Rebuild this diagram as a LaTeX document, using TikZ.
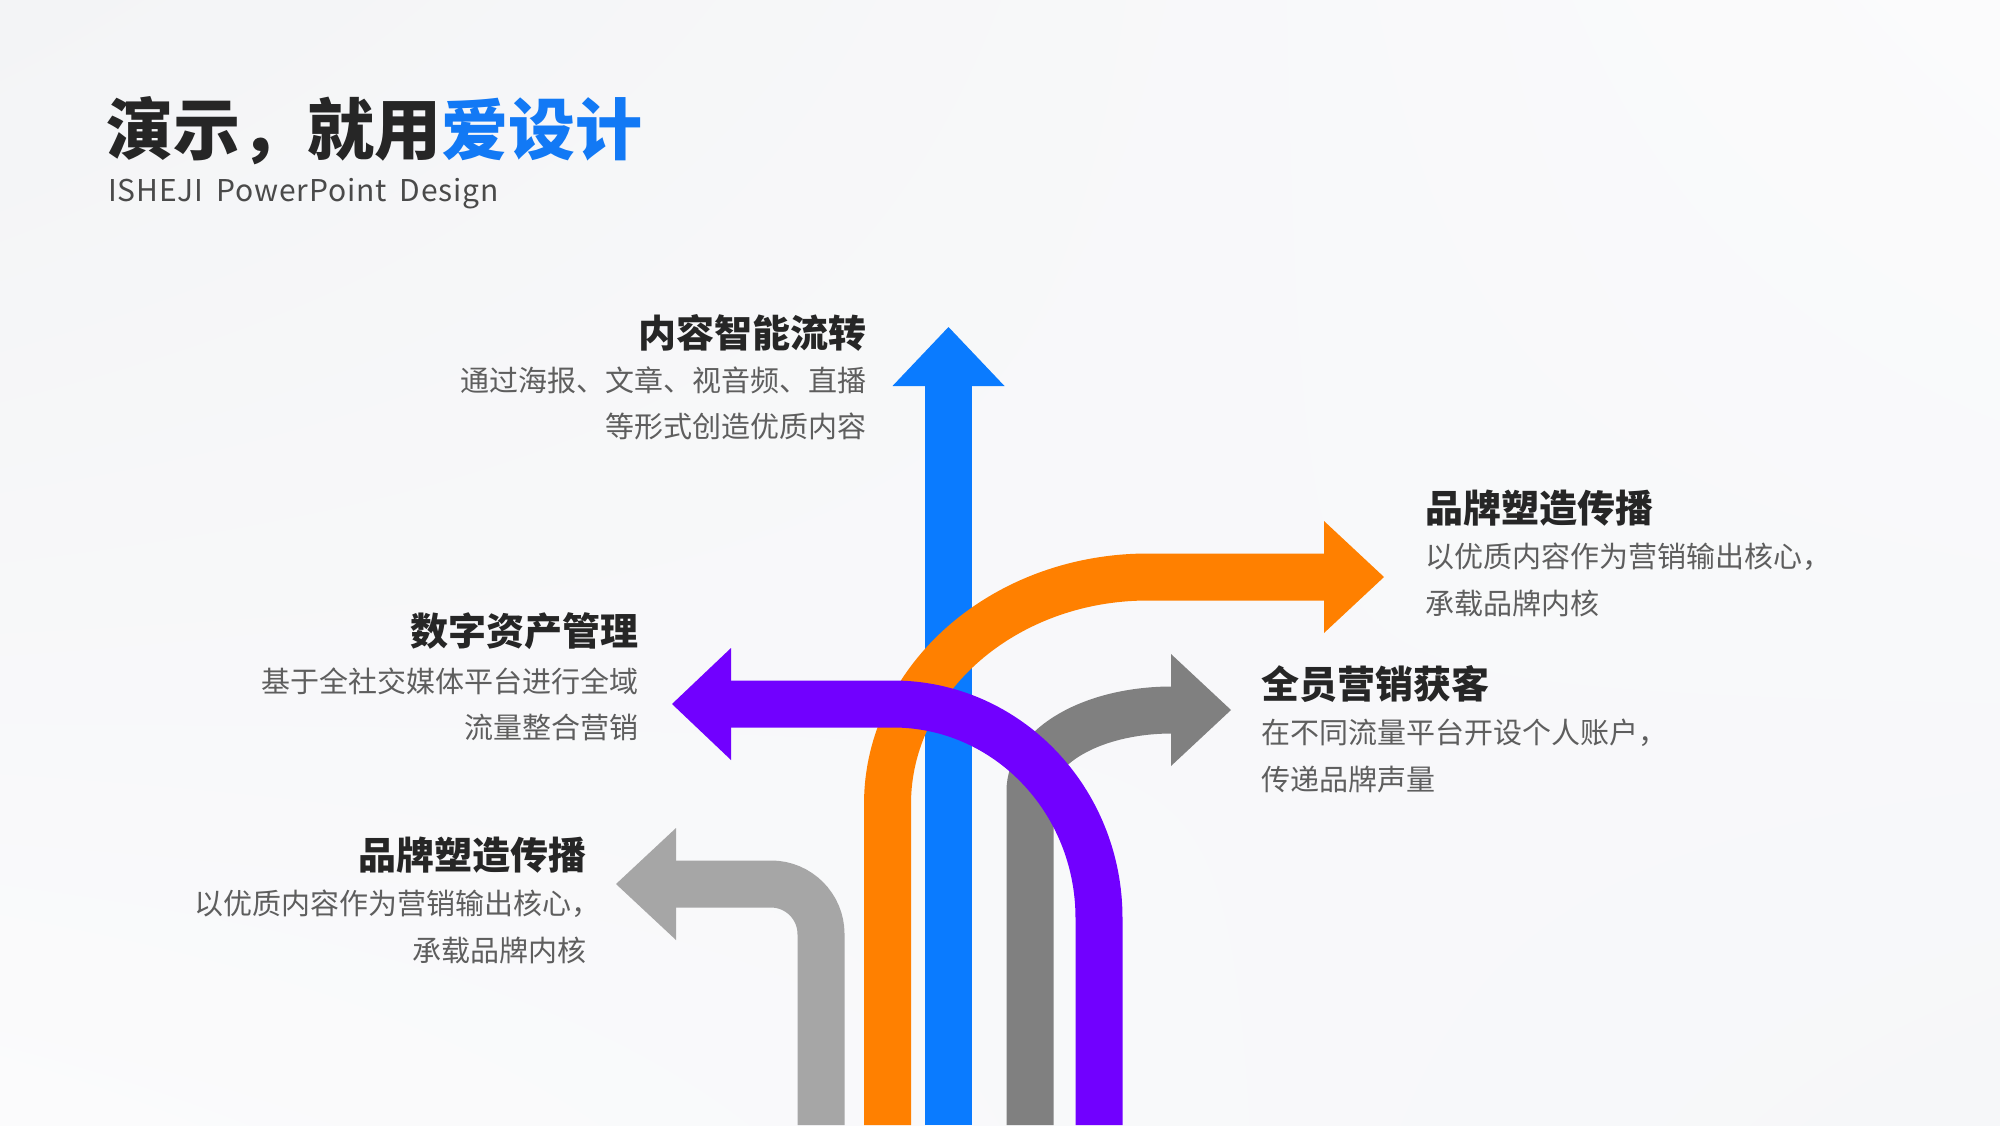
\documentclass[tikz,border=0pt]{standalone}
\usepackage{fontspec}
\usetikzlibrary{shadings}
\setmainfont{Noto Sans CJK SC}
\newfontfamily\subfont[LetterSpace=3]{Noto Sans CJK SC}
\definecolor{cblue}{HTML}{0A7BFF}
\definecolor{tblue}{HTML}{1279F5}
\definecolor{corange}{HTML}{FF8000}
\definecolor{cpurple}{HTML}{7100FF}
\definecolor{cgray}{HTML}{808080}
\definecolor{clgray}{HTML}{A6A6A6}
\definecolor{ctext}{HTML}{262626}
\definecolor{cdesc}{HTML}{5E5E5E}
\definecolor{csub}{HTML}{4A4A4A}
\definecolor{bgA}{HTML}{F3F4F6}
\definecolor{bgB}{HTML}{FBFBFC}
\definecolor{bgC}{HTML}{F6F7F9}
\begin{document}
\begin{tikzpicture}[x=1pt,y=-1pt,
  shaft/.style={line width=47pt},
  ttl/.style={inner sep=0pt, text=ctext, font=\fontsize{38}{38}\selectfont\bfseries},
  desc/.style={inner sep=0pt, text=cdesc, font=\fontsize{29}{29}\selectfont}]
\useasboundingbox (0,0) rectangle (2000,1125);
\shade[upper left=bgA, upper right=bgB, lower left=bgB, lower right=bgC] (0,0) rectangle (2000,1125);

% title
\node[anchor=west, inner sep=0pt, text=ctext, font=\fontsize{67}{67}\selectfont\bfseries] (title) at (106,131) {演示，就用\textcolor{tblue}{爱设计}};
\node[anchor=west, inner sep=0pt, text=csub, font=\subfont\fontsize{30}{30}\selectfont] (sub) at (108,194) {ISHEJI\, PowerPoint\, Design};

% light gray arrow
\draw[shaft, clgray, rounded corners=50pt] (821,1125) -- (821,884) -- (675,884);
\fill[clgray] (676,828) -- (616,884) -- (676,940) -- cycle;

% blue arrow
\draw[shaft, cblue] (948.5,1125) -- (948.5,385);
\fill[cblue] (892.5,386) -- (948.5,327) -- (1004.5,386) -- cycle;

% orange arrow
\draw[shaft, corange] (887.5,1125) -- (887.5,804) .. controls (887.5,679) and (1004,577) .. (1148,577) -- (1325,577);
\fill[corange] (1324,521) -- (1384,577) -- (1324,633) -- cycle;

% dark gray arrow
\draw[shaft, cgray] (1030,1125) -- (1030,791) .. controls (1030,746) and (1093,710) .. (1172,710);
\fill[cgray] (1171,654) -- (1231,710) -- (1171,766) -- cycle;

% purple arrow
\draw[shaft, cpurple] (730,704) -- (893,704) .. controls (1007,704) and (1099,800) .. (1099,918) -- (1099,1125);
\fill[cpurple] (731,648) -- (672,704) -- (731,760) -- cycle;

% texts
\node[ttl, anchor=east] (t1) at (867,333) {内容智能流转};
\node[desc, anchor=east] (d1a) at (867,380) {通过海报、文章、视音频、直播};
\node[desc, anchor=east] (d1b) at (867,426) {等形式创造优质内容};

\node[ttl, anchor=west] (t2) at (1425,508) {品牌塑造传播};
\node[desc, anchor=west] (d2a) at (1425,557) {以优质内容作为营销输出核心，};
\node[desc, anchor=west] (d2b) at (1425,603) {承载品牌内核};

\node[ttl, anchor=east] (t3) at (639,631) {数字资产管理};
\node[desc, anchor=east] (d3a) at (639,681) {基于全社交媒体平台进行全域};
\node[desc, anchor=east] (d3b) at (639,727) {流量整合营销};

\node[ttl, anchor=west] (t4) at (1261,684) {全员营销获客};
\node[desc, anchor=west] (d4a) at (1261,733) {在不同流量平台开设个人账户，};
\node[desc, anchor=west] (d4b) at (1261,779) {传递品牌声量};

\node[ttl, anchor=east] (t5) at (587,855) {品牌塑造传播};
\node[desc, anchor=west] (d5a) at (194,904) {以优质内容作为营销输出核心，};
\node[desc, anchor=east] (d5b) at (587,950) {承载品牌内核};
\end{tikzpicture}
\end{document}
